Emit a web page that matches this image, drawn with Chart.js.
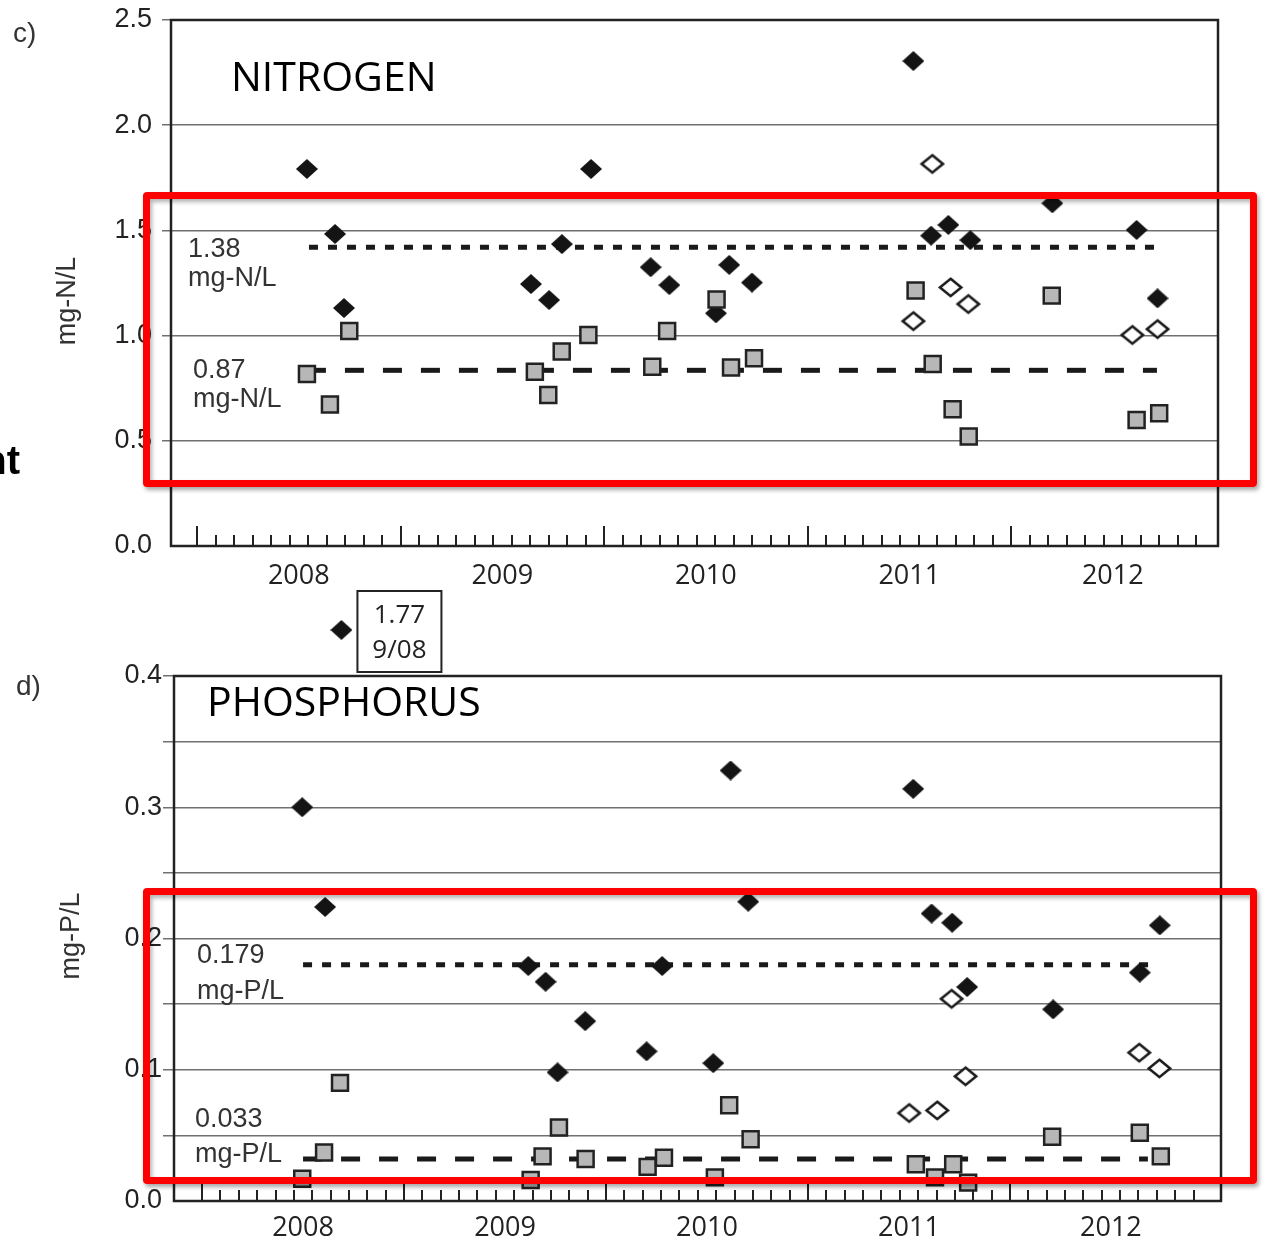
<!DOCTYPE html>
<html>
<head>
<meta charset="utf-8">
<script src="https://cdn.jsdelivr.net/npm/chart.js@4.4.1/dist/chart.umd.min.js"></script>
<style>
  html,body{margin:0;padding:0;background:#fff;}
  #page{position:relative;width:1267px;height:1243px;overflow:hidden;background:#fff;}
  canvas{position:absolute;left:0;}
  #cN{top:0;}
  #cP{top:585px;}
  .txt{position:absolute;font-family:"Liberation Sans",Arial,sans-serif;color:#333;white-space:nowrap;}
  .redbox{position:absolute;box-sizing:border-box;border:7px solid #ff0000;border-radius:4px;
    box-shadow:2px 3px 4px rgba(0,0,0,.35), inset 2px 3px 4px rgba(0,0,0,.3);}
</style>
</head>
<body>
<div id="page">
  <canvas id="cN" width="1267" height="600"></canvas>
  <canvas id="cP" width="1267" height="658"></canvas>
  <div class="txt" style="left:13px;top:15px;font-size:28px;line-height:36px;">c)</div>
  <div class="txt" style="left:16px;top:668px;font-size:28px;line-height:36px;">d)</div>
  <div class="txt" style="left:-80px;width:100px;top:440px;text-align:right;font-size:40px;line-height:40px;font-weight:bold;color:#000;">nt</div>
  <div class="redbox" style="left:143px;top:192px;width:1114px;height:295px;"></div>
  <div class="redbox" style="left:143px;top:888px;width:1114px;height:296px;"></div>
</div>
<script>
// ---- data (decimal year, concentration) ----
const YEARS = [2008, 2009, 2010, 2011, 2012];

const nitrogenFilled = [
  [2008.540,1.792],[2008.678,1.483],[2008.722,1.131],[2009.641,1.245],[2009.730,1.169],
  [2009.793,1.435],[2009.936,1.792],[2010.229,1.325],[2010.321,1.240],[2010.550,1.106],
  [2010.615,1.336],[2010.727,1.252],[2011.520,2.305],[2011.607,1.475],[2011.692,1.526],
  [2011.800,1.454],[2012.203,1.629],[2012.617,1.502],[2012.720,1.177]
];
const nitrogenOpen = [
  [2011.613,1.816],[2011.520,1.069],[2011.703,1.229],[2011.790,1.150],[2012.596,1.003],[2012.720,1.031]
];
const nitrogenSquare = [
  [2008.540,0.817],[2008.653,0.673],[2008.748,1.022],[2009.660,0.828],[2009.726,0.718],
  [2009.792,0.924],[2009.923,1.003],[2010.237,0.852],[2010.310,1.022],[2010.553,1.172],
  [2010.624,0.848],[2010.737,0.892],[2011.531,1.214],[2011.615,0.865],[2011.713,0.650],
  [2011.792,0.520],[2012.200,1.190],[2012.617,0.599],[2012.728,0.631]
];
const nitrogenDotted = [[2008.55,1.42],[2012.747,1.42]];
const nitrogenDashed = [[2008.54,0.835],[2012.717,0.835]];
const nitrogenLabels = [['1.38','mg-N/L'],['0.87','mg-N/L']];

const phosphorusFilled = [
  [2008.496,0.300],[2008.609,0.224],[2009.615,0.179],[2009.701,0.167],[2009.760,0.098],
  [2009.897,0.137],[2010.201,0.114],[2010.278,0.179],[2010.531,0.105],[2010.617,0.328],
  [2010.704,0.228],[2011.521,0.314],[2011.612,0.219],[2011.714,0.212],[2011.788,0.163],
  [2012.214,0.146],[2012.643,0.174],[2012.742,0.210]
];
const phosphorusOpen = [
  [2011.501,0.067],[2011.640,0.069],[2011.711,0.154],[2011.780,0.095],[2012.640,0.113],[2012.740,0.101]
];
const phosphorusSquare = [
  [2008.496,0.017],[2008.604,0.037],[2008.683,0.090],[2009.627,0.016],[2009.686,0.034],
  [2009.767,0.056],[2009.899,0.032],[2010.206,0.026],[2010.287,0.033],[2010.539,0.018],
  [2010.610,0.073],[2010.716,0.047],[2011.534,0.028],[2011.629,0.018],[2011.719,0.028],
  [2011.793,0.014],[2012.209,0.049],[2012.643,0.052],[2012.747,0.034]
];
const phosphorusDotted = [[2008.50,0.180],[2012.717,0.180]];
const phosphorusDashed = [[2008.50,0.032],[2012.683,0.032]];
const phosphorusLabels = [['0.179','mg-P/L'],['0.033','mg-P/L']];
const phosphorusOffScale = {x: 2008.69, text: ['1.77','9/08']};

// ---- marker images ----
function diamond(w, h, fill, stroke, lw){
  const c = document.createElement('canvas');
  c.width = w; c.height = h;
  const g = c.getContext('2d');
  const i = lw ? lw * 1.1 : 0;
  g.beginPath();
  g.moveTo(w/2, i); g.lineTo(w - i, h/2); g.lineTo(w/2, h - i); g.lineTo(i, h/2); g.closePath();
  g.fillStyle = fill; g.fill();
  if (lw){ g.lineWidth = lw; g.strokeStyle = stroke; g.lineJoin = 'miter'; g.stroke(); }
  return c;
}
const filledDia = diamond(22, 20, '#141414');
const openDia = diamond(27, 23, '#fff', '#1a1a1a', 2.6);

const pts = a => a.map(([x, y]) => ({x, y}));
const LS = '"Liberation Sans", Arial, sans-serif';
const OS = '"Open Sans", "Noto Sans", sans-serif';

const paper = {
  id: 'paper',
  beforeDatasetsDraw(chart, args, o){
    const {ctx, chartArea: a, scales: {x, y}} = chart;
    ctx.save();
    ctx.strokeStyle = '#222'; ctx.lineWidth = 2.5;
    ctx.strokeRect(a.left, a.top, a.right - a.left, a.bottom - a.top);
    // inward ticks on the time axis
    ctx.lineWidth = 2;
    YEARS.forEach(yr => {
      for (let k = 0; k < 11; k++){
        const px = Math.round(x.getPixelForValue(yr + k / 11));
        ctx.beginPath();
        ctx.moveTo(px, a.bottom);
        ctx.lineTo(px, a.bottom - (k === 0 ? 20 : 11));
        ctx.stroke();
      }
    });
    // panel title
    ctx.fillStyle = '#000'; ctx.font = '41px ' + OS;
    ctx.textAlign = 'left'; ctx.textBaseline = 'alphabetic';
    ctx.fillText(o.title, a.left + o.titleDx, a.top + o.titleDy);
    // y axis title
    ctx.fillStyle = '#333'; ctx.font = '27px ' + LS;
    ctx.save();
    ctx.translate(o.yTitleX, o.yTitleY); ctx.rotate(-Math.PI / 2);
    ctx.textAlign = 'center'; ctx.textBaseline = 'middle';
    ctx.fillText(o.yTitle, 0, 0);
    ctx.restore();
    // reference line labels
    o.notes.forEach(n => {
      const py = y.getPixelForValue(n.value);
      n.text.forEach((t, i) => ctx.fillText(t, a.left + n.dx, py + n.dy[i]));
    });
    // off-scale value above the panel
    if (o.off){
      const px = x.getPixelForValue(o.off.x);
      ctx.drawImage(filledDia, px - 11, a.top - 46 - 10);
      const bl = px + 16, bt = a.top - 85;
      ctx.strokeStyle = '#222'; ctx.lineWidth = 2;
      ctx.strokeRect(bl, bt, 84, 81);
      ctx.fillStyle = '#222'; ctx.font = '26px ' + OS; ctx.textAlign = 'center';
      ctx.fillText(o.off.text[0], bl + 42, a.top - 53);
      ctx.fillText(o.off.text[1], bl + 42, a.top - 18);
    }
    ctx.restore();
  }
};

function makeChart(id, cfg){
  const H = document.getElementById(id).height;
  return new Chart(document.getElementById(id), {
    type: 'scatter',
    data: {datasets: [
      {data: pts(cfg.square), pointStyle: 'rect', pointRadius: 11.3, backgroundColor: '#b7b7b7', borderColor: '#222', borderWidth: 2.5, order: 1},
      {data: pts(cfg.filled), pointStyle: filledDia, pointRadius: 10, order: 2},
      {data: pts(cfg.open), pointStyle: openDia, pointRadius: 11, order: 3},
      {data: pts(cfg.dotted), showLine: true, pointRadius: 0, borderColor: '#1a1a1a', borderWidth: 5, borderDash: [9, 10], borderCapStyle: 'butt', order: 4},
      {data: pts(cfg.dashed), showLine: true, pointRadius: 0, borderColor: '#1a1a1a', borderWidth: 5, borderDash: [19, 19], borderCapStyle: 'butt', order: 5}
    ]},
    options: {
      responsive: false, animation: false, events: [],
      layout: {padding: {left: 0, top: cfg.top, right: 1267 - cfg.right, bottom: 0}},
      plugins: {legend: {display: false}, tooltip: {enabled: false}, paper: cfg.paper},
      scales: {
        x: {
          type: 'linear', min: cfg.xmin, max: cfg.xmax,
          afterBuildTicks: s => { s.ticks = YEARS.map(v => ({value: v + 0.5})); },
          afterFit: s => { s.height = H - cfg.bottom; },
          ticks: {callback: v => String(Math.floor(v)), font: {family: OS, size: 27}, color: '#222', padding: cfg.xPad, maxRotation: 0, autoSkip: false},
          grid: {display: false, drawTicks: false},
          border: {display: false}
        },
        y: {
          min: 0, max: cfg.ymax,
          afterFit: s => { s.width = cfg.left; s.paddingTop = 0; s.paddingBottom = 0; },
          ticks: {stepSize: cfg.step, callback: cfg.label, font: {family: LS, size: 27}, color: '#222', padding: cfg.yPad},
          grid: {color: '#707070', lineWidth: 1.5, tickLength: cfg.tick,
            tickColor: c => (c.index === 0 || c.value >= cfg.ymax - 1e-9) ? 'rgba(0,0,0,0)' : '#707070'},
          border: {display: false}
        }
      }
    },
    plugins: [paper]
  });
}

makeChart('cN', {
  square: nitrogenSquare, filled: nitrogenFilled, open: nitrogenOpen,
  dotted: nitrogenDotted, dashed: nitrogenDashed,
  xmin: 2007.872, xmax: 2013.017, ymax: 2.5, step: 0.5, label: v => v.toFixed(1),
  left: 171, right: 1218, top: 20, bottom: 546, xPad: 14, yPad: 10, tick: 9,
  paper: {
    title: 'NITROGEN', titleDx: 60, titleDy: 71,
    yTitle: 'mg-N/L', yTitleX: 68, yTitleY: 301,
    notes: [
      {text: nitrogenLabels[0], value: nitrogenDotted[0][1], dx: 17, dy: [10, 39]},
      {text: nitrogenLabels[1], value: nitrogenDashed[0][1], dx: 22, dy: [8, 37]}
    ]
  }
});

makeChart('cP', {
  square: phosphorusSquare, filled: phosphorusFilled, open: phosphorusOpen,
  dotted: phosphorusDotted, dashed: phosphorusDashed,
  xmin: 2007.861, xmax: 2013.045, ymax: 0.4, step: 0.05,
  label: v => Math.abs(v * 10 - Math.round(v * 10)) < 1e-6 ? v.toFixed(1) : '',
  left: 174, right: 1221, top: 91, bottom: 616, xPad: 11, yPad: 1, tick: 11,
  paper: {
    title: 'PHOSPHORUS', titleDx: 33, titleDy: 40,
    yTitle: 'mg-P/L', yTitleX: 72, yTitleY: 351,
    notes: [
      {text: phosphorusLabels[0], value: phosphorusDotted[0][1], dx: 23, dy: [-2, 34]},
      {text: phosphorusLabels[1], value: phosphorusDashed[0][1], dx: 21, dy: [-32, 3]}
    ],
    off: phosphorusOffScale
  }
});
</script>
</body>
</html>
